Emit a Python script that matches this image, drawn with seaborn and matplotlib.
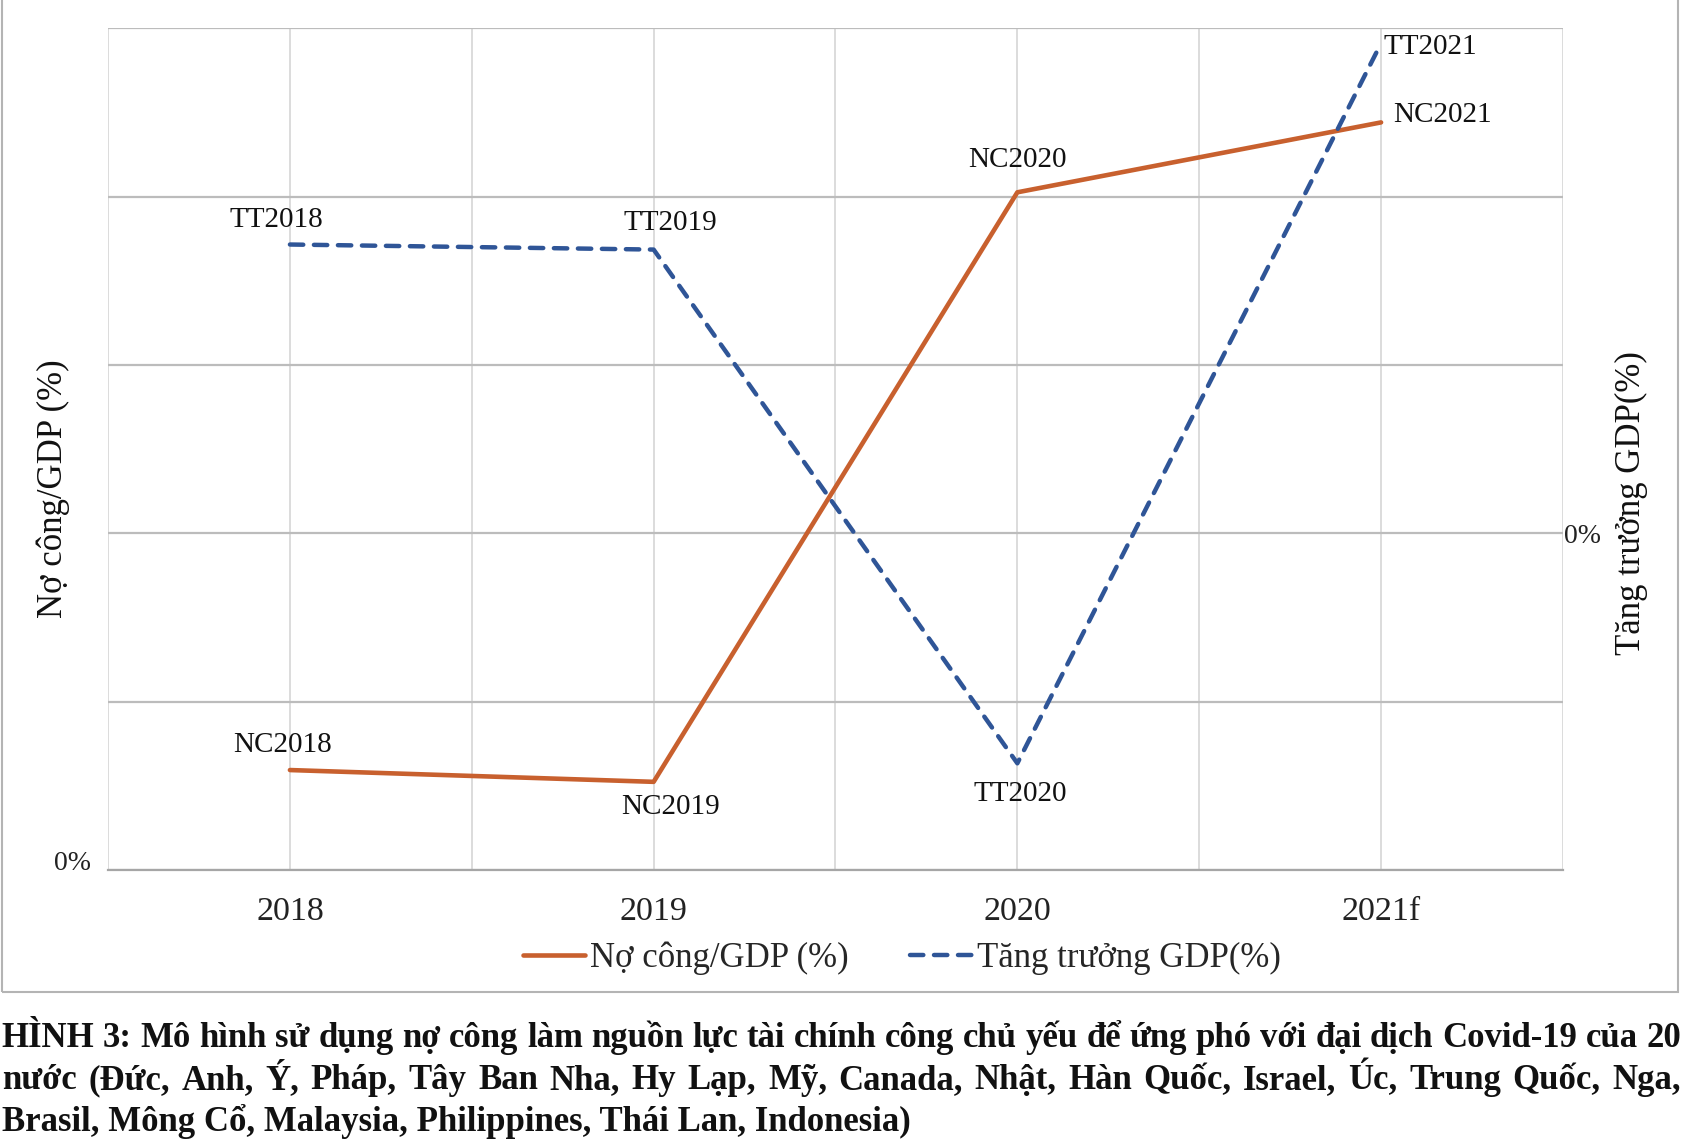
import numpy as np
import pandas as pd
import matplotlib
matplotlib.use("Agg")
import matplotlib.pyplot as plt
import matplotlib.transforms as mtransforms
from matplotlib.patches import Rectangle
import seaborn as sns

# values (schematic chart, only 0% is labelled)
years = ["2018", "2019", "2020", "2021f"]
no_cong = [11.9, 10.5, 80.5, 88.8]          # Nợ công/GDP (%), left axis 0..100
tang_truong = [3.43, 3.37, -2.73, 5.82]     # Tăng trưởng GDP(%), right axis -4..6
nc_labels = ["NC2018", "NC2019", "NC2020", "NC2021"]
tt_labels = ["TT2018", "TT2019", "TT2020", "TT2021"]

caption = [
    "HÌNH 3: Mô hình sử dụng nợ công làm nguồn lực tài chính công chủ yếu để ứng phó với đại dịch Covid-19 của 20",
    "nước (Đức, Anh, Ý, Pháp, Tây Ban Nha, Hy Lạp, Mỹ, Canada, Nhật, Hàn Quốc, Israel, Úc, Trung Quốc, Nga,",
    "Brasil, Mông Cổ, Malaysia, Philippines, Thái Lan, Indonesia)",
]

df = pd.DataFrame({"x": np.arange(len(years)), "nc": no_cong, "tt": tang_truong})

ORANGE = "#C8602E"
BLUE = "#2F5597"

sns.set_theme(style="white")
plt.rcParams["font.family"] = ["Liberation Serif", "DejaVu Serif"]

fig = plt.figure(figsize=(16.86, 11.46), dpi=100)
ax = fig.add_axes([0.0641, 0.2406, 0.8629, 0.7349])
ax2 = ax.twinx()

sns.lineplot(data=df, x="x", y="nc", ax=ax, color=ORANGE, linewidth=3.3,
             label="Nợ công/GDP (%)")
sns.lineplot(data=df, x="x", y="tt", ax=ax2, color=BLUE, linewidth=3.2,
             label="Tăng trưởng GDP(%)")
blue_line = ax2.lines[0]
blue_line.set_dashes([3.0, 2.4])
blue_line.set_dash_capstyle("round")

# axes ranges / ticks
ax.set_xlim(-0.5, 3.5)
ax.set_ylim(0, 100)
ax2.set_ylim(-4, 6)
ax.set_xticks(df["x"])
ax.set_xticklabels(years, fontsize=24.5)
ax.set_xticks(np.arange(-0.5, 3.6, 0.5), minor=True)
ax.set_yticks([0, 20, 40, 60, 80, 100])
ax.set_yticklabels(["0%", "", "", "", "", ""], fontsize=20)
ax2.set_yticks([0])
ax2.set_yticklabels(["0%"], fontsize=20)
ax.tick_params(axis="x", which="both", length=0, pad=19, colors="#222222")
ax.tick_params(axis="y", length=0, pad=12, colors="#222222")
ax2.tick_params(axis="y", length=0, pad=1, colors="#222222")

# left 0% sits a bit above the axis line, as in excel
up = mtransforms.ScaledTranslation(0, 7 / 72, fig.dpi_scale_trans)
for lab in ax.get_yticklabels():
    lab.set_transform(lab.get_transform() + up)

# grid like excel
ax.grid(False)
ax2.grid(False)
ax.yaxis.grid(True, color="#bcbcbc", linewidth=1.6)
ax.xaxis.grid(True, which="both", color="#d9d9d9", linewidth=1.3)
ax.set_axisbelow(True)
for s in ["top", "left", "right"]:
    ax.spines[s].set_visible(False)
    ax2.spines[s].set_visible(False)
ax.spines["bottom"].set_color("#a6a6a6")
ax.spines["bottom"].set_linewidth(1.6)
ax2.spines["bottom"].set_visible(False)

ax.set_xlabel("")
ax.set_ylabel("Nợ công/GDP (%)", fontsize=25, color="#111111")
ax.yaxis.set_label_coords(-0.026, 0.453)
ax2.set_ylabel("Tăng trưởng GDP(%)", fontsize=25, color="#111111")
ax2.yaxis.set_label_coords(1.036, 0.436)

# data labels
nc_off = [(-5, 18), (12, -18), (0, 23), (9, 5)]
nc_ha = ["center", "center", "center", "left"]
for i, lab in enumerate(nc_labels):
    ax.annotate(lab, (df["x"][i], no_cong[i]), xytext=nc_off[i],
                textcoords="offset points", ha=nc_ha[i], va="center",
                fontsize=21, color="#111111")
tt_off = [(-10, 18), (12, 19), (2, -22), (2, -3)]
tt_ha = ["center", "center", "center", "left"]
for i, lab in enumerate(tt_labels):
    ax2.annotate(lab, (df["x"][i], tang_truong[i]), xytext=tt_off[i],
                 textcoords="offset points", ha=tt_ha[i], va="center",
                 fontsize=21, color="#111111")

# legend under the plot
handles = ax.get_legend_handles_labels()[0] + ax2.get_legend_handles_labels()[0]
labels = ax.get_legend_handles_labels()[1] + ax2.get_legend_handles_labels()[1]
ax.get_legend().remove()
ax2.get_legend().remove()
fig.legend(handles, labels, loc="center", bbox_to_anchor=(0.535, 0.164), ncol=2,
           frameon=False, fontsize=25, handlelength=1.8, handletextpad=0.15,
           columnspacing=1.75)

# chart area border (top edge is cut off in the picture)
fig.patches.append(Rectangle((0.001, 0.134), 0.9945, 0.9, transform=fig.transFigure,
                             fill=False, edgecolor="#b4b4b4", linewidth=1.5))

# caption, first two lines justified to the full width (baseline aligned)
renderer = fig.canvas.get_renderer()
fig_w = fig.bbox.width
cap_y = [0.0862, 0.0496, 0.0129]
cap_kw = dict(ha="left", va="baseline", fontsize=25, fontweight="bold", color="#111111")
for n, (line, y) in enumerate(zip(caption, cap_y)):
    if n == len(caption) - 1:
        fig.text(0.001, y, line, **cap_kw)
        continue
    words = line.split(" ")
    ts = [fig.text(0, y, w, **cap_kw) for w in words]
    widths = [t.get_window_extent(renderer).width for t in ts]
    gap = (0.996 * fig_w - sum(widths)) / (len(words) - 1)
    x = 0.001 * fig_w
    for t, w in zip(ts, widths):
        t.set_x(x / fig_w)
        x += w + gap

fig.savefig("out.png", dpi=100)
print("Saved: out.png")
